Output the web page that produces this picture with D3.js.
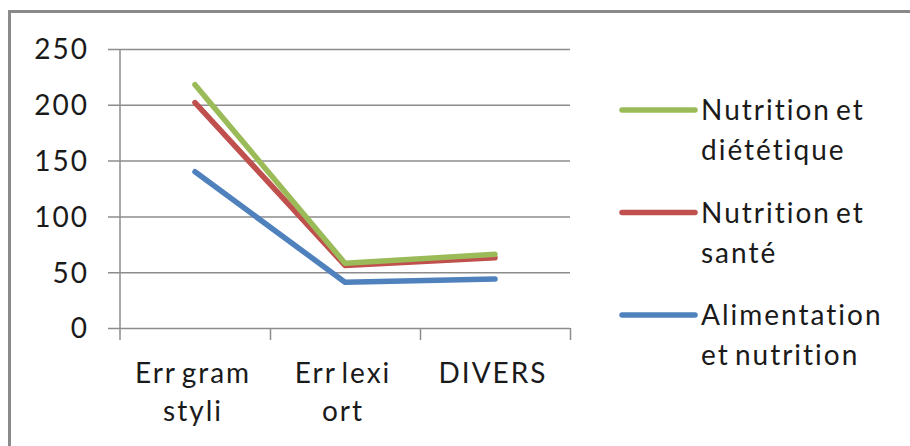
<!DOCTYPE html>
<html><head><meta charset="utf-8">
<script src="https://cdn.jsdelivr.net/npm/d3@7"></script>
<style>html,body{margin:0;padding:0;background:#fff;}svg{display:block;} text{font-variant-ligatures:none;font-feature-settings:"liga" 0;}</style>
</head><body>
<svg id="chart" width="910" height="446"></svg>
<script>
const categories = [["Err gram","styli"],["Err lexi","ort"],["DIVERS"]];
const seriesNames = [["Nutrition et","diététique"],["Nutrition et","santé"],["Alimentation","et nutrition"]];
const seriesColors = ["#9BBB59","#C0504D","#4F81BD"];
const nutritionDietetique = [218, 58, 66];
const nutritionSante = [202, 56, 63];
const alimentationNutrition = [140, 41, 44];
const yTicks = [0, 50, 100, 150, 200, 250];

const seriesValues = [nutritionDietetique, nutritionSante, alimentationNutrition];
const svg = d3.select("#chart");
const font = "Lato, 'Open Sans', sans-serif";
const textColor = "#1a1a1a";
const gridColor = "#8c8c8c";
const ls = 2;

// outer frame
svg.append("path").attr("d","M9.5,446 L9.5,11.5 L910,11.5")
  .attr("fill","none").attr("stroke","#8a8a8a").attr("stroke-width",3);

const pL = 120, pR = 570, pT = 49, pB = 328;
const x = d3.scaleBand().domain(d3.range(categories.length)).range([pL, pR]).padding(0);
const y = d3.scaleLinear().domain([0, 250]).range([pB, pT]);

// gridlines
const yAxis = d3.axisLeft(y).tickValues(yTicks).tickSize(pR - pL + 12).tickFormat(d => d);
const gy = svg.append("g").attr("transform", `translate(${pR},0)`).call(yAxis);
gy.select(".domain").remove();
gy.selectAll(".tick line").attr("stroke", gridColor).attr("stroke-width", 1.5);
gy.selectAll(".tick text").attr("x", -(pR - 87) + ls).attr("dy","0.35em")
  .attr("font-family", font).attr("font-size", 28).attr("letter-spacing", ls).attr("fill", textColor);

// vertical axis line
svg.append("line").attr("x1",pL).attr("x2",pL).attr("y1",pT).attr("y2",pB+12)
  .attr("stroke",gridColor).attr("stroke-width",1.5);

// x axis ticks (category boundaries)
const xb = d3.scaleLinear().domain([0,3]).range([pL,pR]);
const xAxis = d3.axisBottom(xb).tickValues([1,2,3]).tickSize(12).tickFormat("");
const gx = svg.append("g").attr("transform",`translate(0,${pB})`).call(xAxis);
gx.select(".domain").remove();
gx.selectAll(".tick line").attr("stroke",gridColor).attr("stroke-width",1.5);

// category labels
categories.forEach((lines, i) => {
  const cx = x(i) + x.bandwidth()/2 - 2;
  const t = svg.append("text").attr("x", cx).attr("y", 383)
    .attr("text-anchor","middle").attr("font-family",font).attr("font-size",28)
    .attr("letter-spacing", ls).attr("word-spacing", -4).attr("fill",textColor);
  lines.forEach((l, j) => t.append("tspan").attr("x", cx).attr("dy", j ? 38 : 0).text(l));
});

// lines
const line = d3.line().x((d,i) => x(i) + x.bandwidth()/2).y(d => y(d));
for (let s = seriesValues.length - 1; s >= 0; s--) {
  svg.append("path").datum(seriesValues[s]).attr("d", line)
    .attr("fill","none").attr("stroke",seriesColors[s]).attr("stroke-width",5.5)
    .attr("stroke-linecap","round").attr("stroke-linejoin","round");
}

// legend
seriesNames.forEach((lines, i) => {
  const ly = 110 + i * 102.5;
  svg.append("line").attr("x1",622).attr("x2",695).attr("y1",ly).attr("y2",ly)
    .attr("stroke",seriesColors[i]).attr("stroke-width",5.5).attr("stroke-linecap","round");
  const t = svg.append("text").attr("x",701).attr("y",ly+10)
    .attr("font-family",font).attr("font-size",28).attr("letter-spacing", ls)
    .attr("word-spacing", -4).attr("fill",textColor);
  lines.forEach((l, j) => t.append("tspan").attr("x",701).attr("dy", j ? 40 : 0).text(l));
});
</script>
</body></html>
